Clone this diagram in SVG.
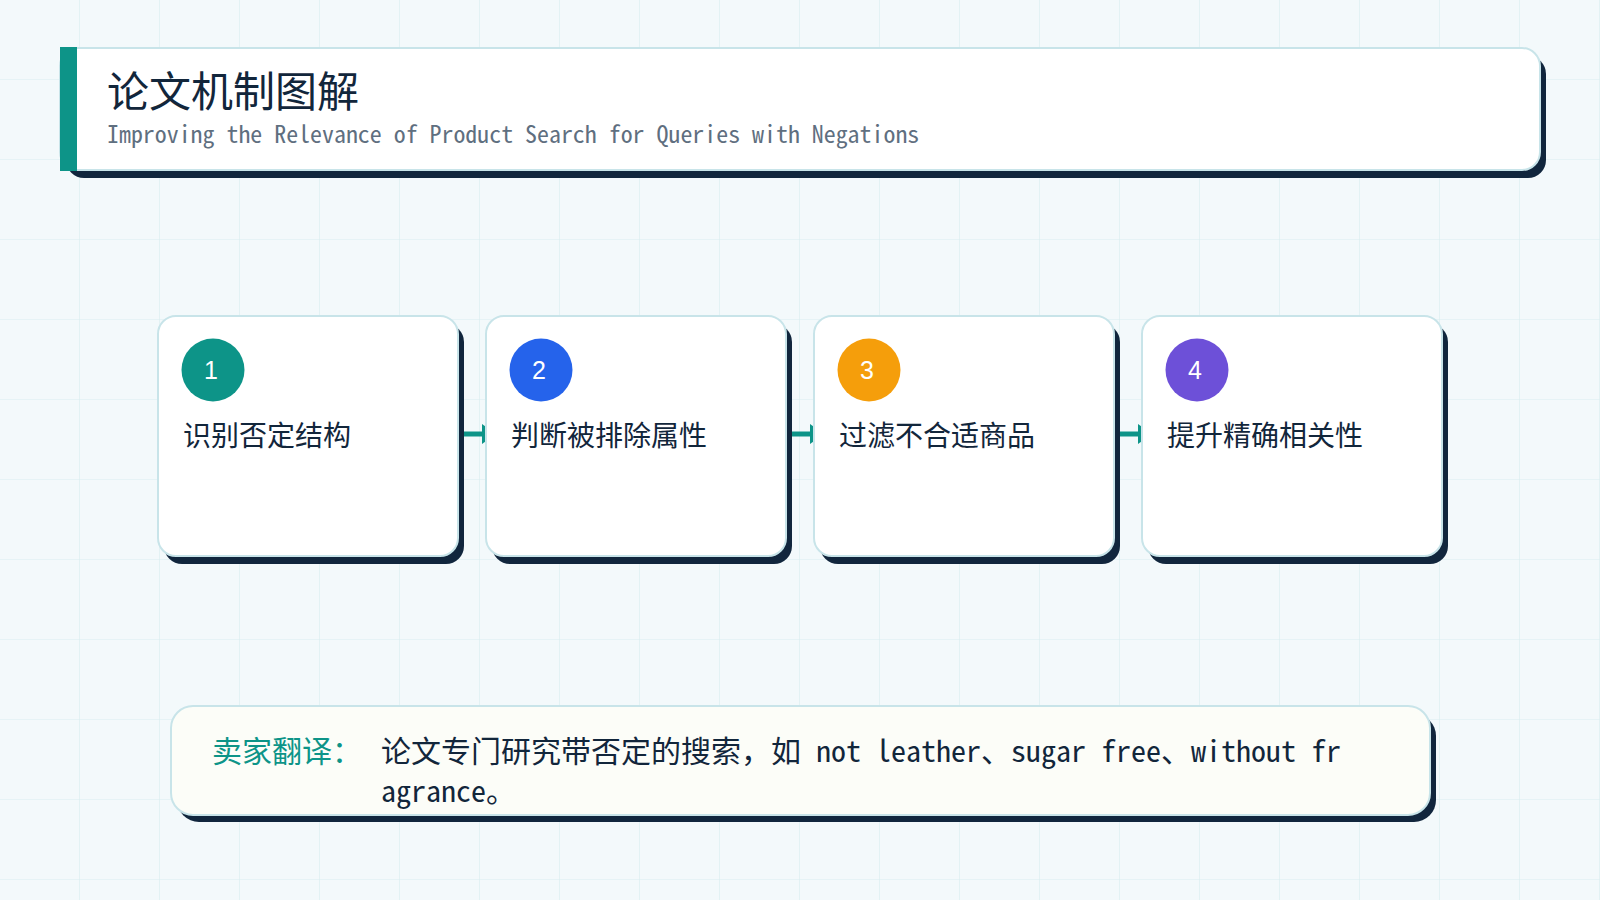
<svg xmlns="http://www.w3.org/2000/svg" width="1600" height="900" viewBox="0 0 1600 900">
  <defs>
    <pattern id="grid" x="0" y="0" width="80" height="80" patternUnits="userSpaceOnUse">
      <path d="M80 0 V80 M0 80 H80" fill="none" stroke="#d9edf1" stroke-width="1.2"/>
    </pattern>
    <style>
      .shadow { fill: #11263d; }
      .card { fill: #ffffff; stroke: #c8e4e9; stroke-width: 2; }
      .note { fill: #fcfdf8; stroke: #c8e4e9; stroke-width: 2; }
      .mono { font-family: "Noto Sans Mono CJK SC", "Noto Sans CJK SC", "Liberation Mono", monospace; }
      .cjk { font-family: "Noto Sans CJK SC", "Noto Sans", sans-serif; }
      .title { font-size: 42px; fill: #12263b; }
      .sub { font-size: 23.9px; fill: #5f6f80; }
      .step { font-size: 28px; fill: #12263b; }
      .num { font-family: "Liberation Sans", Arial, sans-serif; font-size: 25px; fill: #ffffff; text-anchor: middle; }
      .label { font-size: 30px; fill: #0d9488; }
      .body { font-size: 30px; fill: #12263b; }
      .conn { stroke: #0d9488; stroke-width: 5; fill: none; }
      .head { fill: #0d9488; }
    </style>
  </defs>

  <rect x="0" y="0" width="1600" height="900" fill="#f3f9fb"/>
  <rect x="0" y="0" width="1600" height="900" fill="url(#grid)"/>

  <g id="header">
    <rect class="shadow" x="66" y="56" width="1480" height="122" rx="18"/>
    <rect class="card" x="60" y="48" width="1480" height="122" rx="18"/>
    <rect x="60" y="47" width="17" height="124" fill="#0d9488"/>
    <text class="cjk title" x="107" y="107">论文机制图解</text>
    <text class="mono sub" x="107" y="143">Improving the Relevance of Product Search for Queries with Negations</text>
  </g>

  <g id="connectors">
    <line class="conn" x1="456" y1="434" x2="486" y2="434"/>
    <polygon class="head" points="482,424 496,434 482,444"/>
    <line class="conn" x1="784" y1="434" x2="814" y2="434"/>
    <polygon class="head" points="810,424 824,434 810,444"/>
    <line class="conn" x1="1112" y1="434" x2="1142" y2="434"/>
    <polygon class="head" points="1138,424 1152,434 1138,444"/>
  </g>

  <g id="step1">
    <rect class="shadow" x="164" y="324" width="300" height="240" rx="18"/>
    <rect class="card" x="158" y="316" width="300" height="240" rx="18"/>
    <circle cx="213" cy="370" r="31.5" fill="#0d9488"/>
    <text class="num" x="211" y="379">1</text>
    <text class="cjk step" x="183" y="446">识别否定结构</text>
  </g>

  <g id="step2">
    <rect class="shadow" x="492" y="324" width="300" height="240" rx="18"/>
    <rect class="card" x="486" y="316" width="300" height="240" rx="18"/>
    <circle cx="541" cy="370" r="31.5" fill="#2563eb"/>
    <text class="num" x="539" y="379">2</text>
    <text class="cjk step" x="511" y="446">判断被排除属性</text>
  </g>

  <g id="step3">
    <rect class="shadow" x="820" y="324" width="300" height="240" rx="18"/>
    <rect class="card" x="814" y="316" width="300" height="240" rx="18"/>
    <circle cx="869" cy="370" r="31.5" fill="#f59e0b"/>
    <text class="num" x="867" y="379">3</text>
    <text class="cjk step" x="839" y="446">过滤不合适商品</text>
  </g>

  <g id="step4">
    <rect class="shadow" x="1148" y="324" width="300" height="240" rx="18"/>
    <rect class="card" x="1142" y="316" width="300" height="240" rx="18"/>
    <circle cx="1197" cy="370" r="31.5" fill="#6d50d8"/>
    <text class="num" x="1195" y="379">4</text>
    <text class="cjk step" x="1167" y="446">提升精确相关性</text>
  </g>

  <g id="note">
    <rect class="shadow" x="177" y="714" width="1259" height="108" rx="22"/>
    <rect class="note" x="171" y="706" width="1259" height="109" rx="22"/>
    <text class="mono label" x="212" y="762">卖家翻译：</text>
    <text class="mono body" x="381" y="762">论文专门研究带否定的搜索，如 not leather、sugar free、without fr</text>
    <text class="mono body" x="381" y="802">agrance。</text>
  </g>
</svg>
